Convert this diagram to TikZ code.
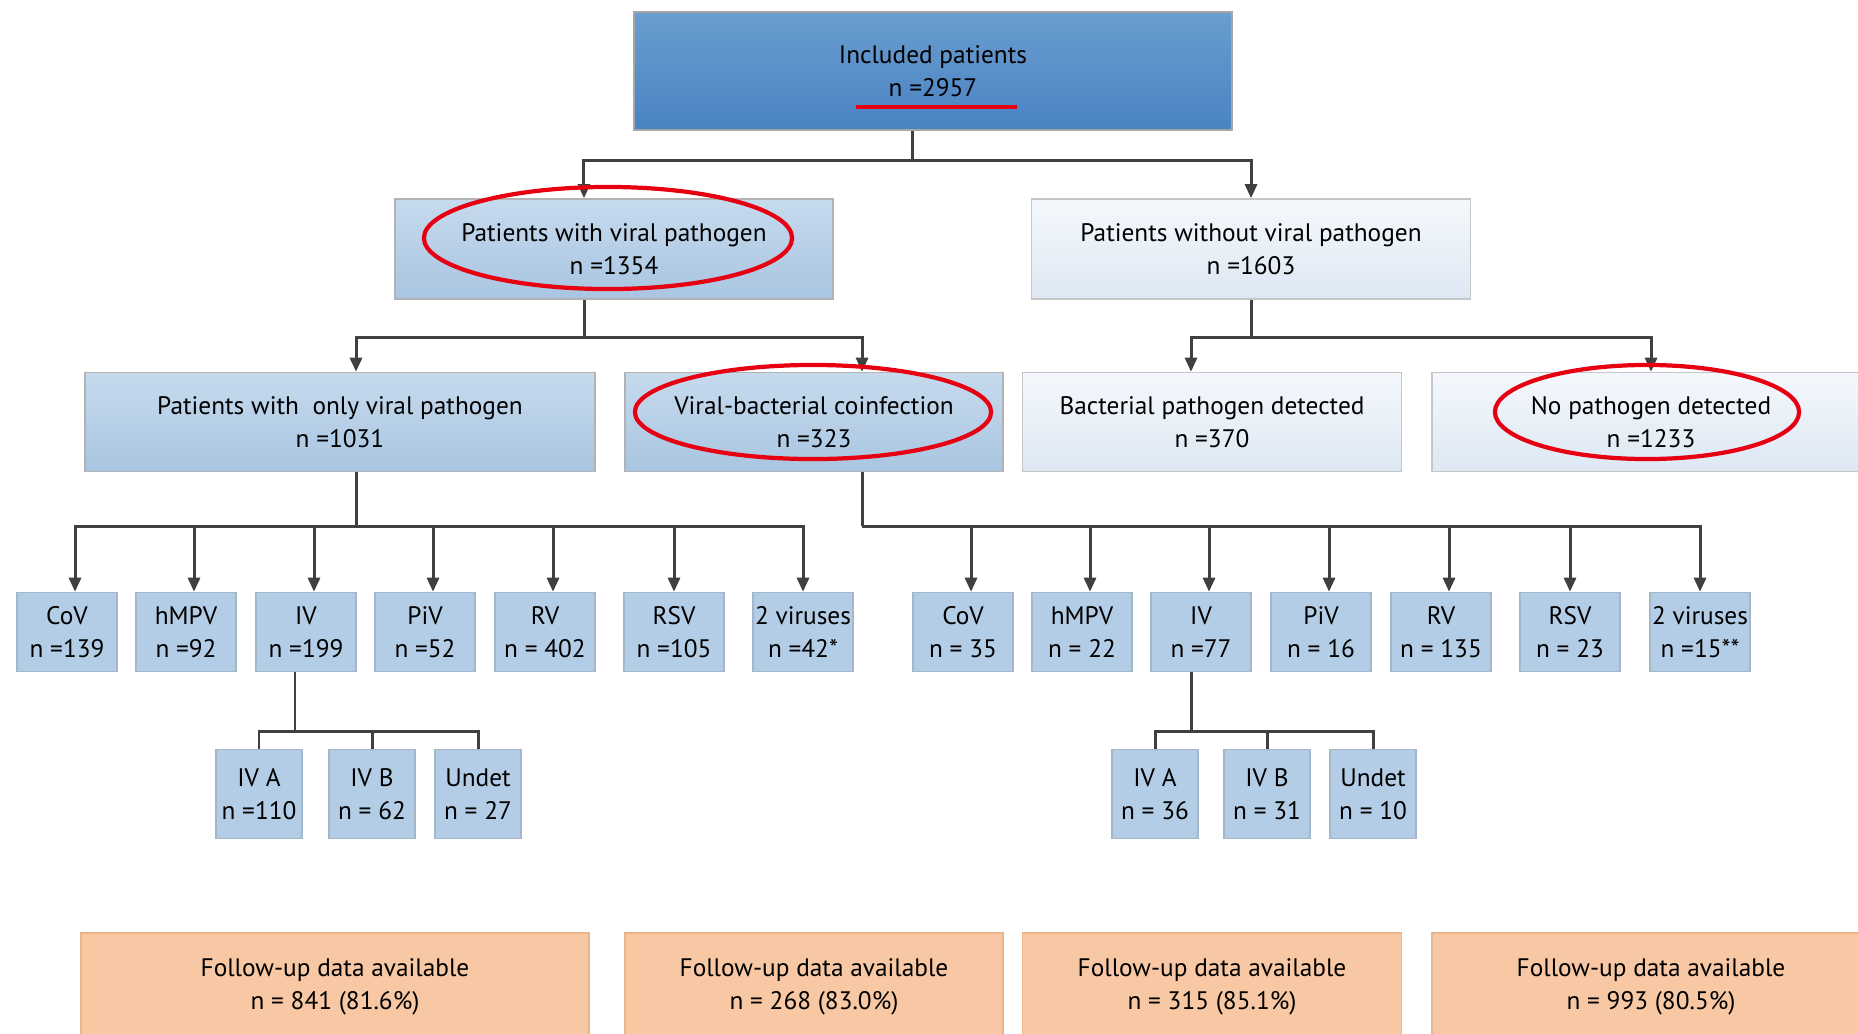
\documentclass[tikz,border=0pt]{standalone}
\usepackage{fontspec}
\setmainfont{PT Sans}
\usepackage{xcolor}
\usetikzlibrary{arrows.meta}
\definecolor{topup}{HTML}{6A9ED0}
\definecolor{toplow}{HTML}{4A82C2}
\definecolor{virup}{HTML}{C6DAED}
\definecolor{virlow}{HTML}{A9C5E1}
\definecolor{paleup}{HTML}{F4F8FC}
\definecolor{palelow}{HTML}{DDE8F3}
\definecolor{leaffill}{HTML}{B4CDE6}
\definecolor{peach}{HTML}{F7C8A3}
\definecolor{linegray}{HTML}{404040}
\definecolor{markred}{HTML}{E60012}

\begin{document}
\begin{tikzpicture}[x=0.01cm,y=-0.01cm,
    box/.style={rectangle,align=center,inner sep=0pt,font=\fontsize{7.2}{9.4}\selectfont},
    topbox/.style={box,draw=gray!70,top color=topup,bottom color=toplow,minimum width=5.98cm,minimum height=1.18cm},
    virbox/.style={box,draw=gray!60,top color=virup,bottom color=virlow,minimum height=#1},
    palebox/.style={box,draw=gray!45,top color=paleup,bottom color=palelow,minimum height=#1},
    leaf/.style={box,draw=leaffill!70!gray,fill=leaffill,minimum width=1.00cm,minimum height=0.79cm},
    subleaf/.style={box,draw=leaffill!70!gray,fill=leaffill,minimum width=0.86cm,minimum height=0.89cm},
    followbox/.style={box,draw=peach!75!brown,fill=peach,minimum height=1.08cm},
    line/.style={draw=linegray,line width=0.85pt},
    arr/.style={line,-{Triangle[length=4pt,width=3.4pt]}},
    redmark/.style={draw=markred,line width=1.2pt}]
\useasboundingbox (0,0) rectangle (1858,1033);

\node[topbox] (incl) at (933,71) {Included patients\\n =2957};
\node[virbox=1.00cm,minimum width=4.38cm] (viral) at (614,249) {Patients with viral pathogen\\n =1354};
\node[palebox=1.00cm,minimum width=4.39cm] (noviral) at (1251,249) {Patients without viral pathogen\\n =1603};

\node[virbox=0.99cm,minimum width=5.10cm] (only) at (340,422) {Patients with \ only viral pathogen\\n =1031};
\node[virbox=0.99cm,minimum width=3.78cm] (coinf) at (814,422) {Viral-bacterial coinfection\\n =323};
\node[palebox=0.99cm,minimum width=3.79cm] (bact) at (1212,422) {Bacterial pathogen detected\\n =370};
\node[palebox=0.99cm,minimum width=4.38cm] (nopath) at (1651,422) {No pathogen detected\\n =1233};

\node[leaf] (cova) at (67,632) {CoV\\n =139};
\node[leaf] (hmpva) at (186,632) {hMPV\\n =92};
\node[leaf] (iva) at (306,632) {IV\\n =199};
\node[leaf] (piva) at (425,632) {PiV\\n =52};
\node[leaf] (rva) at (545,632) {RV\\n = 402};
\node[leaf] (rsva) at (674,632) {RSV\\n =105};
\node[leaf] (twoa) at (803,632) {2 viruses\\n =42*};

\node[leaf] (covb) at (963,632) {CoV\\n = 35};
\node[leaf] (hmpvb) at (1082,632) {hMPV\\n = 22};
\node[leaf] (ivb) at (1201,632) {IV\\n =77};
\node[leaf] (pivb) at (1321,632) {PiV\\n = 16};
\node[leaf] (rvb) at (1441,632) {RV\\n = 135};
\node[leaf] (rsvb) at (1570,632) {RSV\\n = 23};
\node[leaf] (twob) at (1700,632) {2 viruses\\n =15**};

\node[subleaf] (ivaa) at (259,794) {IV A\\n =110};
\node[subleaf] (ivab) at (372,794) {IV B\\n = 62};
\node[subleaf] (ivau) at (478,794) {Undet\\n = 27};
\node[subleaf] (ivba) at (1155,794) {IV A\\n = 36};
\node[subleaf] (ivbb) at (1267,794) {IV B\\n = 31};
\node[subleaf] (ivbu) at (1373,794) {Undet\\n = 10};

\node[followbox,minimum width=5.08cm] (fua) at (335,987) {Follow-up data available\\n = 841 (81.6\%)};
\node[followbox,minimum width=3.78cm] (fub) at (814,987) {Follow-up data available\\n = 268 (83.0\%)};
\node[followbox,minimum width=3.79cm] (fuc) at (1212,987) {Follow-up data available\\n = 315 (85.1\%)};
\node[followbox,minimum width=4.38cm] (fud) at (1651,987) {Follow-up data available\\n = 993 (80.5\%)};

\coordinate (j0) at (912,160);
\draw[line] (incl.south -| j0) -- (j0);
\draw[arr] (j0) -| ([xshift=-0.30cm]viral.north);
\draw[arr] (j0) -| (noviral.north);

\coordinate (j1) at (584,337);
\draw[line] (viral.south -| j1) -- (j1);
\draw[arr] (j1) -| ([xshift=0.16cm]only.north);
\draw[arr] (j1) -| ([xshift=0.48cm]coinf.north);
\coordinate (j2) at (1251,337);
\draw[line] (noviral.south) -- (j2);
\draw[arr] (j2) -| ([xshift=-0.21cm]bact.north);
\draw[arr] (j2) -| (nopath.north);

\coordinate (j3) at (356,526);
\draw[line] (only.south -| j3) -- (j3);
\foreach \v/\s in {cova/0.08,hmpva/0.08,iva/0.08,piva/0.08,rva/0.08,rsva/0,twoa/0}
    \draw[arr] (j3) -| ([xshift=\s cm]\v.north);
\coordinate (j4) at (862,526);
\draw[line] (coinf.south -| j4) -- (j4);
\foreach \v/\s in {covb/0.08,hmpvb/0.08,ivb/0.08,pivb/0.08,rvb/0.08,rsvb/0,twob/0}
    \draw[arr] (j4) -| ([xshift=\s cm]\v.north);

\coordinate (j5) at (295,731);
\draw[line] (iva.south -| j5) -- (j5);
\foreach \v in {ivaa,ivab,ivau}
    \draw[line] (j5) -| (\v.north);
\coordinate (j6) at (1191,731);
\draw[line] (ivb.south -| j6) -- (j6);
\foreach \v in {ivba,ivbb,ivbu}
    \draw[line] (j6) -| (\v.north);

\draw[redmark] (856,107) -- (1017,107);
\draw[redmark] (608,238) ellipse [x radius=1.84cm,y radius=0.51cm];
\draw[redmark] (813,412) ellipse [x radius=1.78cm,y radius=0.47cm];
\draw[redmark] (1647,412) ellipse [x radius=1.52cm,y radius=0.47cm];
\end{tikzpicture}
\end{document}
